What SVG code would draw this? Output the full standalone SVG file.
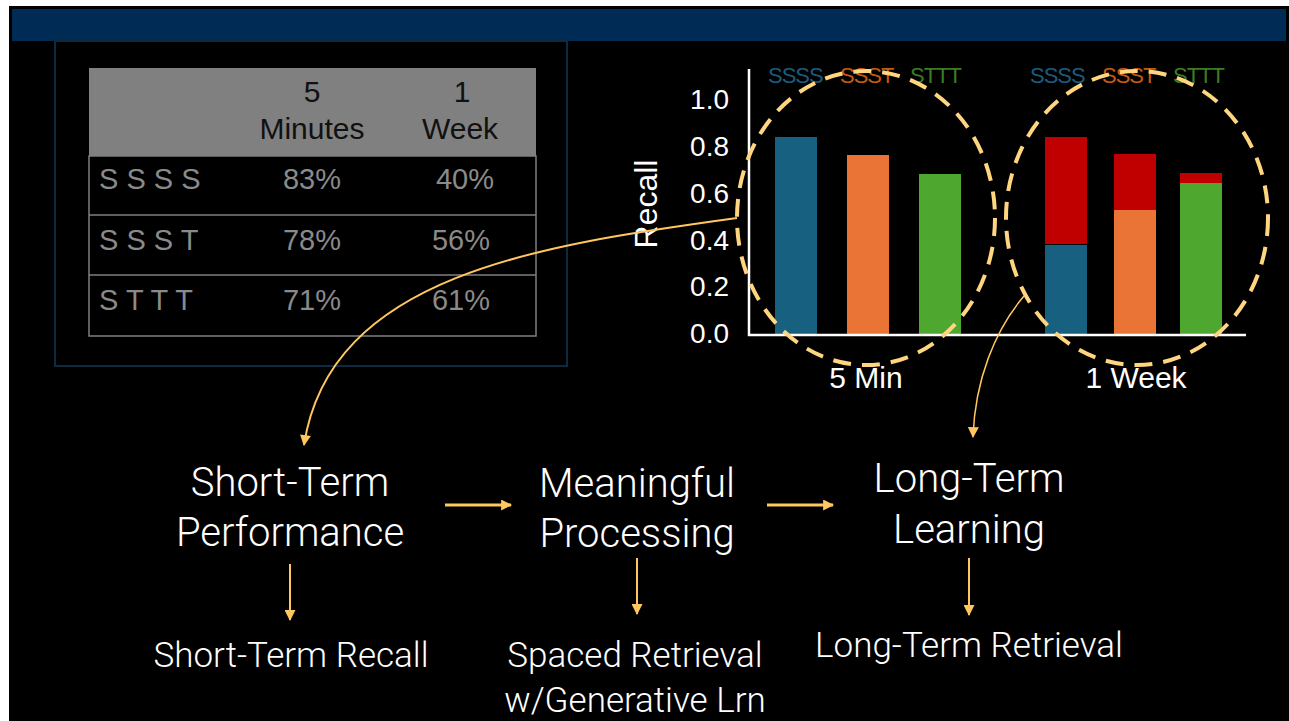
<svg xmlns="http://www.w3.org/2000/svg" width="1289" height="721" viewBox="0 0 1289 721">
<style>
.lbl{font-family:Roboto,"Liberation Sans",sans-serif;font-weight:300;fill:#ffffff;text-anchor:middle}
.big{font-size:40px}
.sm{font-size:35px}
.th{font-family:"Liberation Sans",Arial,sans-serif;font-size:30px;fill:#111111;text-anchor:middle}
.td{font-family:"Liberation Sans",Arial,sans-serif;font-size:29px;fill:#8a8a8a}
.tdc{text-anchor:middle}
.tick{font-family:"Liberation Sans",Arial,sans-serif;font-size:28px;fill:#ffffff;text-anchor:end}
.leg{font-family:"Liberation Sans",Arial,sans-serif;font-size:22px;letter-spacing:-1px}
.cap{font-family:"Liberation Sans",Arial,sans-serif;font-size:30px;fill:#ffffff;text-anchor:middle}
.arrow{stroke:#ffc75e;fill:none}
.ring{fill:none;stroke:#ffd580;stroke-width:4;stroke-dasharray:18 11}
</style>
<defs>
<marker id="ah" viewBox="0 0 10 10" refX="9" refY="5" markerWidth="12" markerHeight="11" markerUnits="userSpaceOnUse" orient="auto">
<path d="M0,0 L10,5 L0,10 Z" fill="#ffc75e"/>
</marker>
</defs>
<rect x="0" y="0" width="1289" height="721" fill="#ffffff"/>
<rect x="9" y="6" width="1280" height="715" fill="#000000"/>
<rect x="12" y="9" width="1274" height="32" fill="#002b54"/>

<g id="table">
<rect x="55" y="41" width="512" height="325" fill="none" stroke="#0e2a40" stroke-width="2"/>
<rect x="89" y="68" width="447" height="88" fill="#808080"/>
<rect x="89" y="156" width="447" height="180" fill="none" stroke="#7f7f7f" stroke-width="1.5"/>
<line x1="89" y1="215" x2="536" y2="215" stroke="#7f7f7f" stroke-width="1.5"/>
<line x1="89" y1="275" x2="536" y2="275" stroke="#7f7f7f" stroke-width="1.5"/>
<text class="th" x="312" y="102">5</text>
<text class="th" x="312" y="139">Minutes</text>
<text class="th" x="462" y="102">1</text>
<text class="th" x="460" y="139">Week</text>
<text class="td" x="99" y="189">S S S S</text>
<text class="td tdc" x="312" y="189">83%</text>
<text class="td tdc" x="465" y="189">40%</text>
<text class="td" x="99" y="250">S S S T</text>
<text class="td tdc" x="312" y="250">78%</text>
<text class="td tdc" x="461" y="250">56%</text>
<text class="td" x="99" y="310">S T T T</text>
<text class="td tdc" x="312" y="310">71%</text>
<text class="td tdc" x="461" y="310">61%</text>
</g>

<g id="chart">
<rect x="775" y="137" width="42" height="198" fill="#17607f"/>
<rect x="847" y="155" width="42" height="180" fill="#e97436"/>
<rect x="919" y="174" width="42" height="161" fill="#4ea72e"/>
<rect x="1045" y="137" width="42" height="107" fill="#c00000"/>
<rect x="1045" y="245" width="42" height="90" fill="#17607f"/>
<rect x="1114" y="154" width="42" height="56" fill="#c00000"/>
<rect x="1114" y="210" width="42" height="125" fill="#e97436"/>
<rect x="1180" y="173" width="42" height="10" fill="#c00000"/>
<rect x="1180" y="183" width="42" height="152" fill="#4ea72e"/>
<polyline points="749,69 749,335 1246,335" fill="none" stroke="#ffffff" stroke-width="2.5"/>
<text class="tick" x="729" y="109">1.0</text>
<text class="tick" x="729" y="156">0.8</text>
<text class="tick" x="729" y="203">0.6</text>
<text class="tick" x="729" y="250">0.4</text>
<text class="tick" x="729" y="296">0.2</text>
<text class="tick" x="729" y="343">0.0</text>
<text class="cap" style="font-size:32px" transform="translate(657,204) rotate(-90)">Recall</text>
<text class="cap" x="866" y="388">5 Min</text>
<text class="cap" x="1136" y="388">1 Week</text>
<text class="leg" x="768" y="83" fill="#1b5b7e">SSSS</text>
<text class="leg" x="840" y="83" fill="#c55a11">SSST</text>
<text class="leg" x="910" y="83" fill="#3b7d23">STTT</text>
<text class="leg" x="1030" y="83" fill="#1b5b7e">SSSS</text>
<text class="leg" x="1102" y="83" fill="#c55a11">SSST</text>
<text class="leg" x="1173" y="83" fill="#3b7d23">STTT</text>
<ellipse class="ring" cx="866" cy="218" rx="129" ry="147"/>
<ellipse class="ring" cx="1137" cy="218" rx="131" ry="147"/>
</g>

<g id="connectors">
<path class="arrow" d="M737,218 C540,245 330,275 304,445" stroke-width="2" marker-end="url(#ah)"/>
<path class="arrow" d="M1024,296 C995,330 975,380 973,437" stroke-width="1.5" marker-end="url(#ah)"/>
<line class="arrow" x1="445" y1="505" x2="511" y2="505" stroke-width="3" marker-end="url(#ah)"/>
<line class="arrow" x1="767" y1="505" x2="833" y2="505" stroke-width="3" marker-end="url(#ah)"/>
<line class="arrow" x1="290" y1="564" x2="290" y2="620" stroke-width="2" marker-end="url(#ah)"/>
<line class="arrow" x1="637" y1="558" x2="637" y2="614" stroke-width="2" marker-end="url(#ah)"/>
<line class="arrow" x1="969" y1="558" x2="969" y2="615" stroke-width="2" marker-end="url(#ah)"/>
</g>

<g id="node-short-term">
<text class="lbl big" x="290" y="496">Short-Term</text>
<text class="lbl big" x="290" y="546">Performance</text>
</g>
<g id="node-meaningful">
<text class="lbl big" x="637" y="497">Meaningful</text>
<text class="lbl big" x="637" y="547">Processing</text>
</g>
<g id="node-long-term">
<text class="lbl big" x="969" y="492">Long-Term</text>
<text class="lbl big" x="969" y="543">Learning</text>
</g>
<g id="node-short-recall">
<text class="lbl sm" x="291" y="667">Short-Term Recall</text>
</g>
<g id="node-spaced">
<text class="lbl sm" x="635" y="667">Spaced Retrieval</text>
<text class="lbl sm" x="635" y="712">w/Generative Lrn</text>
</g>
<g id="node-long-retrieval">
<text class="lbl sm" x="969" y="657">Long-Term Retrieval</text>
</g>
</svg>
